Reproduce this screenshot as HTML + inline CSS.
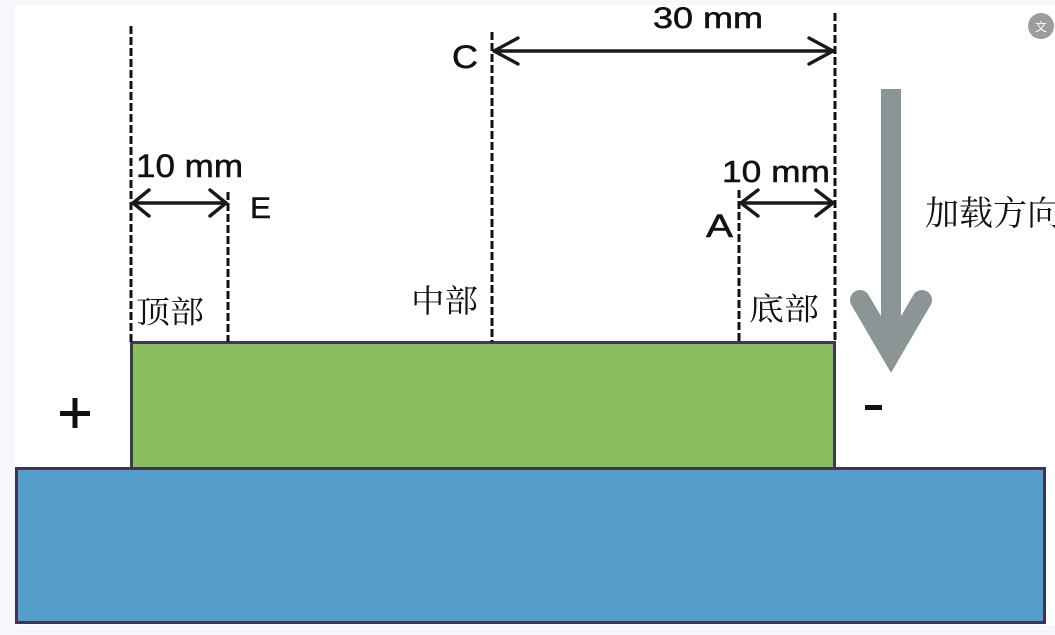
<!DOCTYPE html>
<html>
<head>
<meta charset="utf-8">
<style>
  html,body{margin:0;padding:0;background:#f5f7fb;}
  svg{display:block;}
  .lat{font-family:"Liberation Sans",Arial,sans-serif;fill:#111;stroke:#111;stroke-width:0.5;}
  .cjk{font-family:"Liberation Serif","Noto Serif CJK SC","Noto Sans CJK SC",serif;fill:#111;}
</style>
</head>
<body>
<svg width="1055" height="635" viewBox="0 0 1055 635" xmlns="http://www.w3.org/2000/svg">
  <rect x="0" y="0" width="1055" height="635" fill="#f5f7fb"/>
  <rect x="15" y="5" width="1040" height="620" fill="#ffffff"/>

  <!-- blue base -->
  <rect x="16.5" y="468.5" width="1028" height="154" fill="#559ecb" stroke="#3b3558" stroke-width="3"/>
  <!-- green block -->
  <rect x="131.5" y="342.5" width="703" height="126" fill="#8abe5e" stroke="#3b3a4e" stroke-width="3"/>

  <!-- dashed lines -->
  <g stroke="#111" stroke-width="3" stroke-dasharray="8 3" fill="none">
    <line x1="131" y1="26" x2="131" y2="342"/>
    <line x1="228" y1="192" x2="228" y2="342"/>
    <line x1="492" y1="32" x2="492" y2="342"/>
    <line x1="739" y1="190" x2="739" y2="342"/>
    <line x1="835" y1="13" x2="835" y2="342"/>
  </g>

  <!-- dimension arrows -->
  <g stroke="#1a1a1a" stroke-width="3.4" fill="none" stroke-linecap="round" stroke-linejoin="round">
    <!-- top 30mm -->
    <line x1="494" y1="51" x2="833" y2="51"/>
    <polyline points="518,38 494,51 518,64"/>
    <polyline points="809,38 833,51 809,64"/>
    <!-- left 10mm -->
    <line x1="133" y1="203" x2="226" y2="203"/>
    <polyline points="149,190 133,203 149,216"/>
    <polyline points="210,190 226,203 210,216"/>
    <!-- right 10mm -->
    <line x1="741" y1="203" x2="833" y2="203"/>
    <polyline points="758,190 741,203 758,216"/>
    <polyline points="816,190 833,203 816,216"/>
  </g>

  <!-- load arrow -->
  <rect x="881" y="89" width="20" height="265" fill="#8c9595"/>
  <polyline points="860,300 891,353 922,300" fill="none" stroke="#8c9595" stroke-width="20" stroke-linecap="round" stroke-linejoin="miter" stroke-miterlimit="6"/>

  <!-- latin labels -->
  <text class="lat" x="653" y="28" font-size="30" textLength="110" lengthAdjust="spacingAndGlyphs">30 mm</text>
  <text class="lat" x="452" y="68" font-size="32" textLength="26" lengthAdjust="spacingAndGlyphs">C</text>
  <text class="lat" x="136" y="177" font-size="32" textLength="107" lengthAdjust="spacingAndGlyphs">10 mm</text>
  <text class="lat" x="250" y="218" font-size="30" textLength="21" lengthAdjust="spacingAndGlyphs">E</text>
  <text class="lat" x="722" y="182" font-size="31" textLength="108" lengthAdjust="spacingAndGlyphs">10 mm</text>
  <text class="lat" x="706" y="237" font-size="32" textLength="27" lengthAdjust="spacingAndGlyphs">A</text>

  <!-- cjk labels -->
  <text class="cjk" x="136" y="323" font-size="31" textLength="68" lengthAdjust="spacingAndGlyphs">顶部</text>
  <text class="cjk" x="411" y="312" font-size="32" textLength="67" lengthAdjust="spacingAndGlyphs">中部</text>
  <text class="cjk" x="749" y="320" font-size="31" textLength="70" lengthAdjust="spacingAndGlyphs">底部</text>
  <text class="cjk" x="925" y="225" font-size="34">加载方向</text>

  <!-- plus / minus -->
  <rect x="60" y="411" width="30" height="5" fill="#111"/>
  <rect x="72.5" y="398" width="5" height="30" fill="#111"/>
  <rect x="865" y="405" width="17" height="5" fill="#111"/>

  <!-- top-right icon -->
  <circle cx="1041" cy="26" r="13" fill="#9c9c9c"/>
  <text x="1041" y="31" font-size="12" text-anchor="middle" fill="#ffffff" font-family="'Liberation Sans','Noto Sans CJK SC',sans-serif">文</text>
</svg>
</body>
</html>
